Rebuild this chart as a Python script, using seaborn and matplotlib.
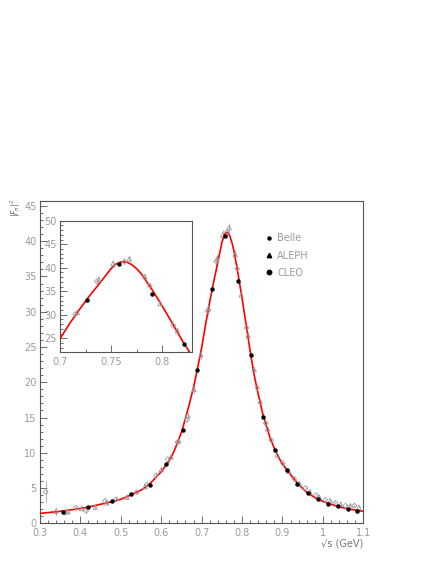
import numpy as np
import pandas as pd
import matplotlib
matplotlib.use("Agg")
import matplotlib.pyplot as plt
from matplotlib.lines import Line2D
from matplotlib.ticker import MultipleLocator
import seaborn as sns

# ---------------- data ----------------
belle_x = [0.356, 0.420, 0.477, 0.526, 0.571, 0.613, 0.653, 0.689, 0.726, 0.758,
           0.790, 0.821, 0.852, 0.881, 0.910, 0.935, 0.962, 0.987, 1.012, 1.037,
           1.061, 1.084]
belle_y = [1.6, 2.3, 3.1, 4.2, 5.5, 8.4, 13.3, 21.7, 33.2, 40.7,
           34.3, 23.8, 15.1, 10.4, 7.5, 5.6, 4.3, 3.4, 2.8, 2.4,
           2.0, 1.75]

aleph_x = [0.339, 0.369, 0.403, 0.437, 0.465, 0.515, 0.560, 0.600, 0.624, 0.643,
           0.666, 0.681, 0.698, 0.717, 0.738, 0.752, 0.768, 0.783, 0.798, 0.815,
           0.830, 0.845, 0.863, 0.887, 0.915, 0.942, 0.968, 0.991, 1.018, 1.044,
           1.068, 1.089]
aleph_y = [1.7, 1.65, 2.1, 2.3, 2.9, 3.7, 5.2, 7.6, 9.4, 11.7,
           15.3, 19.0, 23.9, 30.5, 37.5, 40.9, 41.9, 38.1, 32.4, 26.6,
           21.8, 17.3, 13.4, 9.7, 7.4, 5.6, 4.5, 3.7, 3.2, 2.7,
           2.5, 2.3]
aleph_err = [0.6, 0.3, 0.3, 0.3, 0.3, 0.3, 0.3, 0.3, 0.3, 0.4,
             0.4, 0.5, 0.6, 0.6, 0.7, 0.7, 0.7, 0.6, 0.5, 0.5,
             0.4, 0.4, 0.3, 0.3, 0.2, 0.2, 0.2, 0.2, 0.2, 0.2,
             0.2, 0.2]

cleo_x = [0.314, 0.363, 0.389, 0.414, 0.461, 0.489, 0.539, 0.564, 0.587, 0.616,
          0.640, 0.664, 0.715, 0.736, 0.763, 0.788, 0.811, 0.838, 0.859, 0.872,
          0.901, 0.929, 0.957, 0.983, 1.006, 1.031, 1.056, 1.078]
cleo_y = [4.45, 1.5, 2.2, 1.75, 3.2, 3.4, 4.4, 5.5, 6.8, 9.1,
          11.5, 14.7, 30.1, 37.1, 41.3, 36.1, 27.7, 19.2, 14.2, 11.8,
          8.5, 6.3, 5.0, 4.0, 3.3, 2.9, 2.5, 2.5]
cleo_err = [1.5, 0.3, 0.3, 0.3, 0.3, 0.3, 0.3, 0.3, 0.3, 0.3,
            0.4, 0.4, 0.6, 0.7, 0.7, 0.6, 0.5, 0.4, 0.3, 0.3,
            0.2, 0.2, 0.2, 0.2, 0.2, 0.2, 0.2, 0.2]

fit_x = [0.30, 0.35, 0.40, 0.42, 0.45, 0.48, 0.50, 0.52, 0.55, 0.57, 0.58, 0.60,
         0.61, 0.62, 0.63, 0.64, 0.65, 0.66, 0.67, 0.68, 0.69, 0.70, 0.71, 0.72,
         0.73, 0.74, 0.75, 0.755, 0.76, 0.765, 0.77, 0.775, 0.78, 0.79, 0.80,
         0.81, 0.82, 0.83, 0.84, 0.85, 0.86, 0.87, 0.88, 0.89, 0.90, 0.92, 0.94,
         0.96, 0.98, 1.00, 1.03, 1.06, 1.10]
fit_y = [1.4, 1.7, 2.1, 2.3, 2.7, 3.1, 3.4, 3.9, 4.7, 5.5, 6.1, 7.3,
         8.1, 8.9, 10.0, 11.4, 12.9, 14.9, 17.0, 19.3, 22.0, 24.9, 28.3, 31.4,
         34.3, 37.0, 39.8, 40.8, 41.25, 41.2, 40.7, 39.8, 38.6, 35.4, 31.9,
         28.2, 24.4, 21.0, 18.3, 15.8, 13.8, 12.0, 10.6, 9.4, 8.4, 6.9, 5.5,
         4.4, 3.65, 3.1, 2.5, 2.05, 1.7]

x_ticks = [0.3, 0.4, 0.5, 0.6, 0.7, 0.8, 0.9, 1.0, 1.1]
x_ticklabels = ["0.3", "0.4", "0.5", "0.6", "0.7", "0.8", "0.9", "1", "1.1"]
inset_x_ticks = [0.7, 0.75, 0.8]
inset_x_ticklabels = ["0.7", "0.75", "0.8"]

# ---------------- style ----------------
sns.set_style("ticks")
plt.rcParams['font.family'] = ['DejaVu Sans']
TXT = "#9a9a9a"
FRAME = "#555555"

belle = pd.DataFrame({"x": belle_x, "y": belle_y})
aleph = pd.DataFrame({"x": aleph_x, "y": aleph_y, "e": aleph_err})
cleo = pd.DataFrame({"x": cleo_x, "y": cleo_y, "e": cleo_err})
fit = pd.DataFrame({"x": fit_x, "y": fit_y})

fig = plt.figure(figsize=(4.36, 5.64), dpi=100)
W, H = 436.0, 564.0
ax = fig.add_axes([40 / W, 1 - 523.3 / H, 323.3 / W, 322.3 / H])
axin = fig.add_axes([60 / W, 1 - 352.3 / H, 131.7 / W, 131.6 / H])


def draw(a, sz):
    a.errorbar(aleph["x"], aleph["y"], yerr=aleph["e"], fmt="none",
               ecolor="#aaaaaa", elinewidth=0.6, zorder=2)
    a.errorbar(cleo["x"], cleo["y"], yerr=cleo["e"], fmt="none",
               ecolor="#aaaaaa", elinewidth=0.6, zorder=2)
    sns.lineplot(data=fit, x="x", y="y", ax=a, color="#ff0000", lw=1.2,
                 zorder=3, legend=False)
    sns.scatterplot(data=aleph, x="x", y="y", ax=a, marker="^", s=sz * 1.3,
                    facecolor="none", edgecolor="#999999", linewidth=0.6,
                    zorder=4, legend=False)
    sns.scatterplot(data=cleo, x="x", y="y", ax=a, marker="D", s=sz * 0.8,
                    facecolor="none", edgecolor="#a0a0a0", linewidth=0.6,
                    zorder=4, legend=False)
    sns.scatterplot(data=belle, x="x", y="y", ax=a, marker="o", s=sz,
                    color="black", edgecolor="black", linewidth=0.3,
                    zorder=5, legend=False)


def style(a):
    for sp in a.spines.values():
        sp.set_color(FRAME)
        sp.set_linewidth(0.8)
        sp.set_visible(True)
    a.tick_params(which="both", direction="in", colors=FRAME,
                  labelcolor=TXT, labelsize=7, pad=2.5, width=0.6,
                  top=False, right=False)
    a.tick_params(axis="x", which="both", pad=3.5)
    a.tick_params(which="major", length=5)
    a.tick_params(which="minor", length=2.5)
    a.set_xlabel("")
    a.set_ylabel("")


draw(ax, 8)
ax.set_xlim(0.3, 1.1)
ax.set_ylim(0, 45.7)
ax.set_xticks(x_ticks)
ax.set_xticklabels(x_ticklabels)
ax.xaxis.set_minor_locator(MultipleLocator(0.02))
ax.yaxis.set_major_locator(MultipleLocator(5))
ax.yaxis.set_minor_locator(MultipleLocator(1))
style(ax)

draw(axin, 8)
axin.set_xlim(0.7, 0.829)
axin.set_ylim(22, 50)
axin.set_xticks(inset_x_ticks)
axin.set_xticklabels(inset_x_ticklabels)
axin.xaxis.set_minor_locator(MultipleLocator(0.025))
axin.yaxis.set_major_locator(MultipleLocator(5))
axin.yaxis.set_minor_locator(MultipleLocator(1))
axin.set_facecolor("white")
style(axin)

# legend
handles = [
    Line2D([], [], ls="none", marker="o", ms=2.2, color="black"),
    Line2D([], [], ls="none", marker="^", ms=3.2, color="black"),
    Line2D([], [], ls="none", marker="o", ms=3.2, color="black"),
]
leg = ax.legend(handles, ["Belle", "ALEPH", "CLEO"], loc="upper left",
                bbox_to_anchor=(0.685, 0.915), frameon=False, fontsize=7,
                handlelength=0.6, handletextpad=0.5, labelspacing=0.75,
                borderpad=0)
for t in leg.get_texts():
    t.set_color(TXT)

fig.text(363 / W, 1 - 543 / H, "√s (GeV)", ha="right", va="center",
         fontsize=7, color="#777777")
fig.text(16 / W, 1 - 208 / H, r"$|F_\pi|^2$", ha="center", va="center",
         rotation=90, fontsize=5.5, color="#666666")

fig.savefig("out.png", dpi=100, facecolor="white")
